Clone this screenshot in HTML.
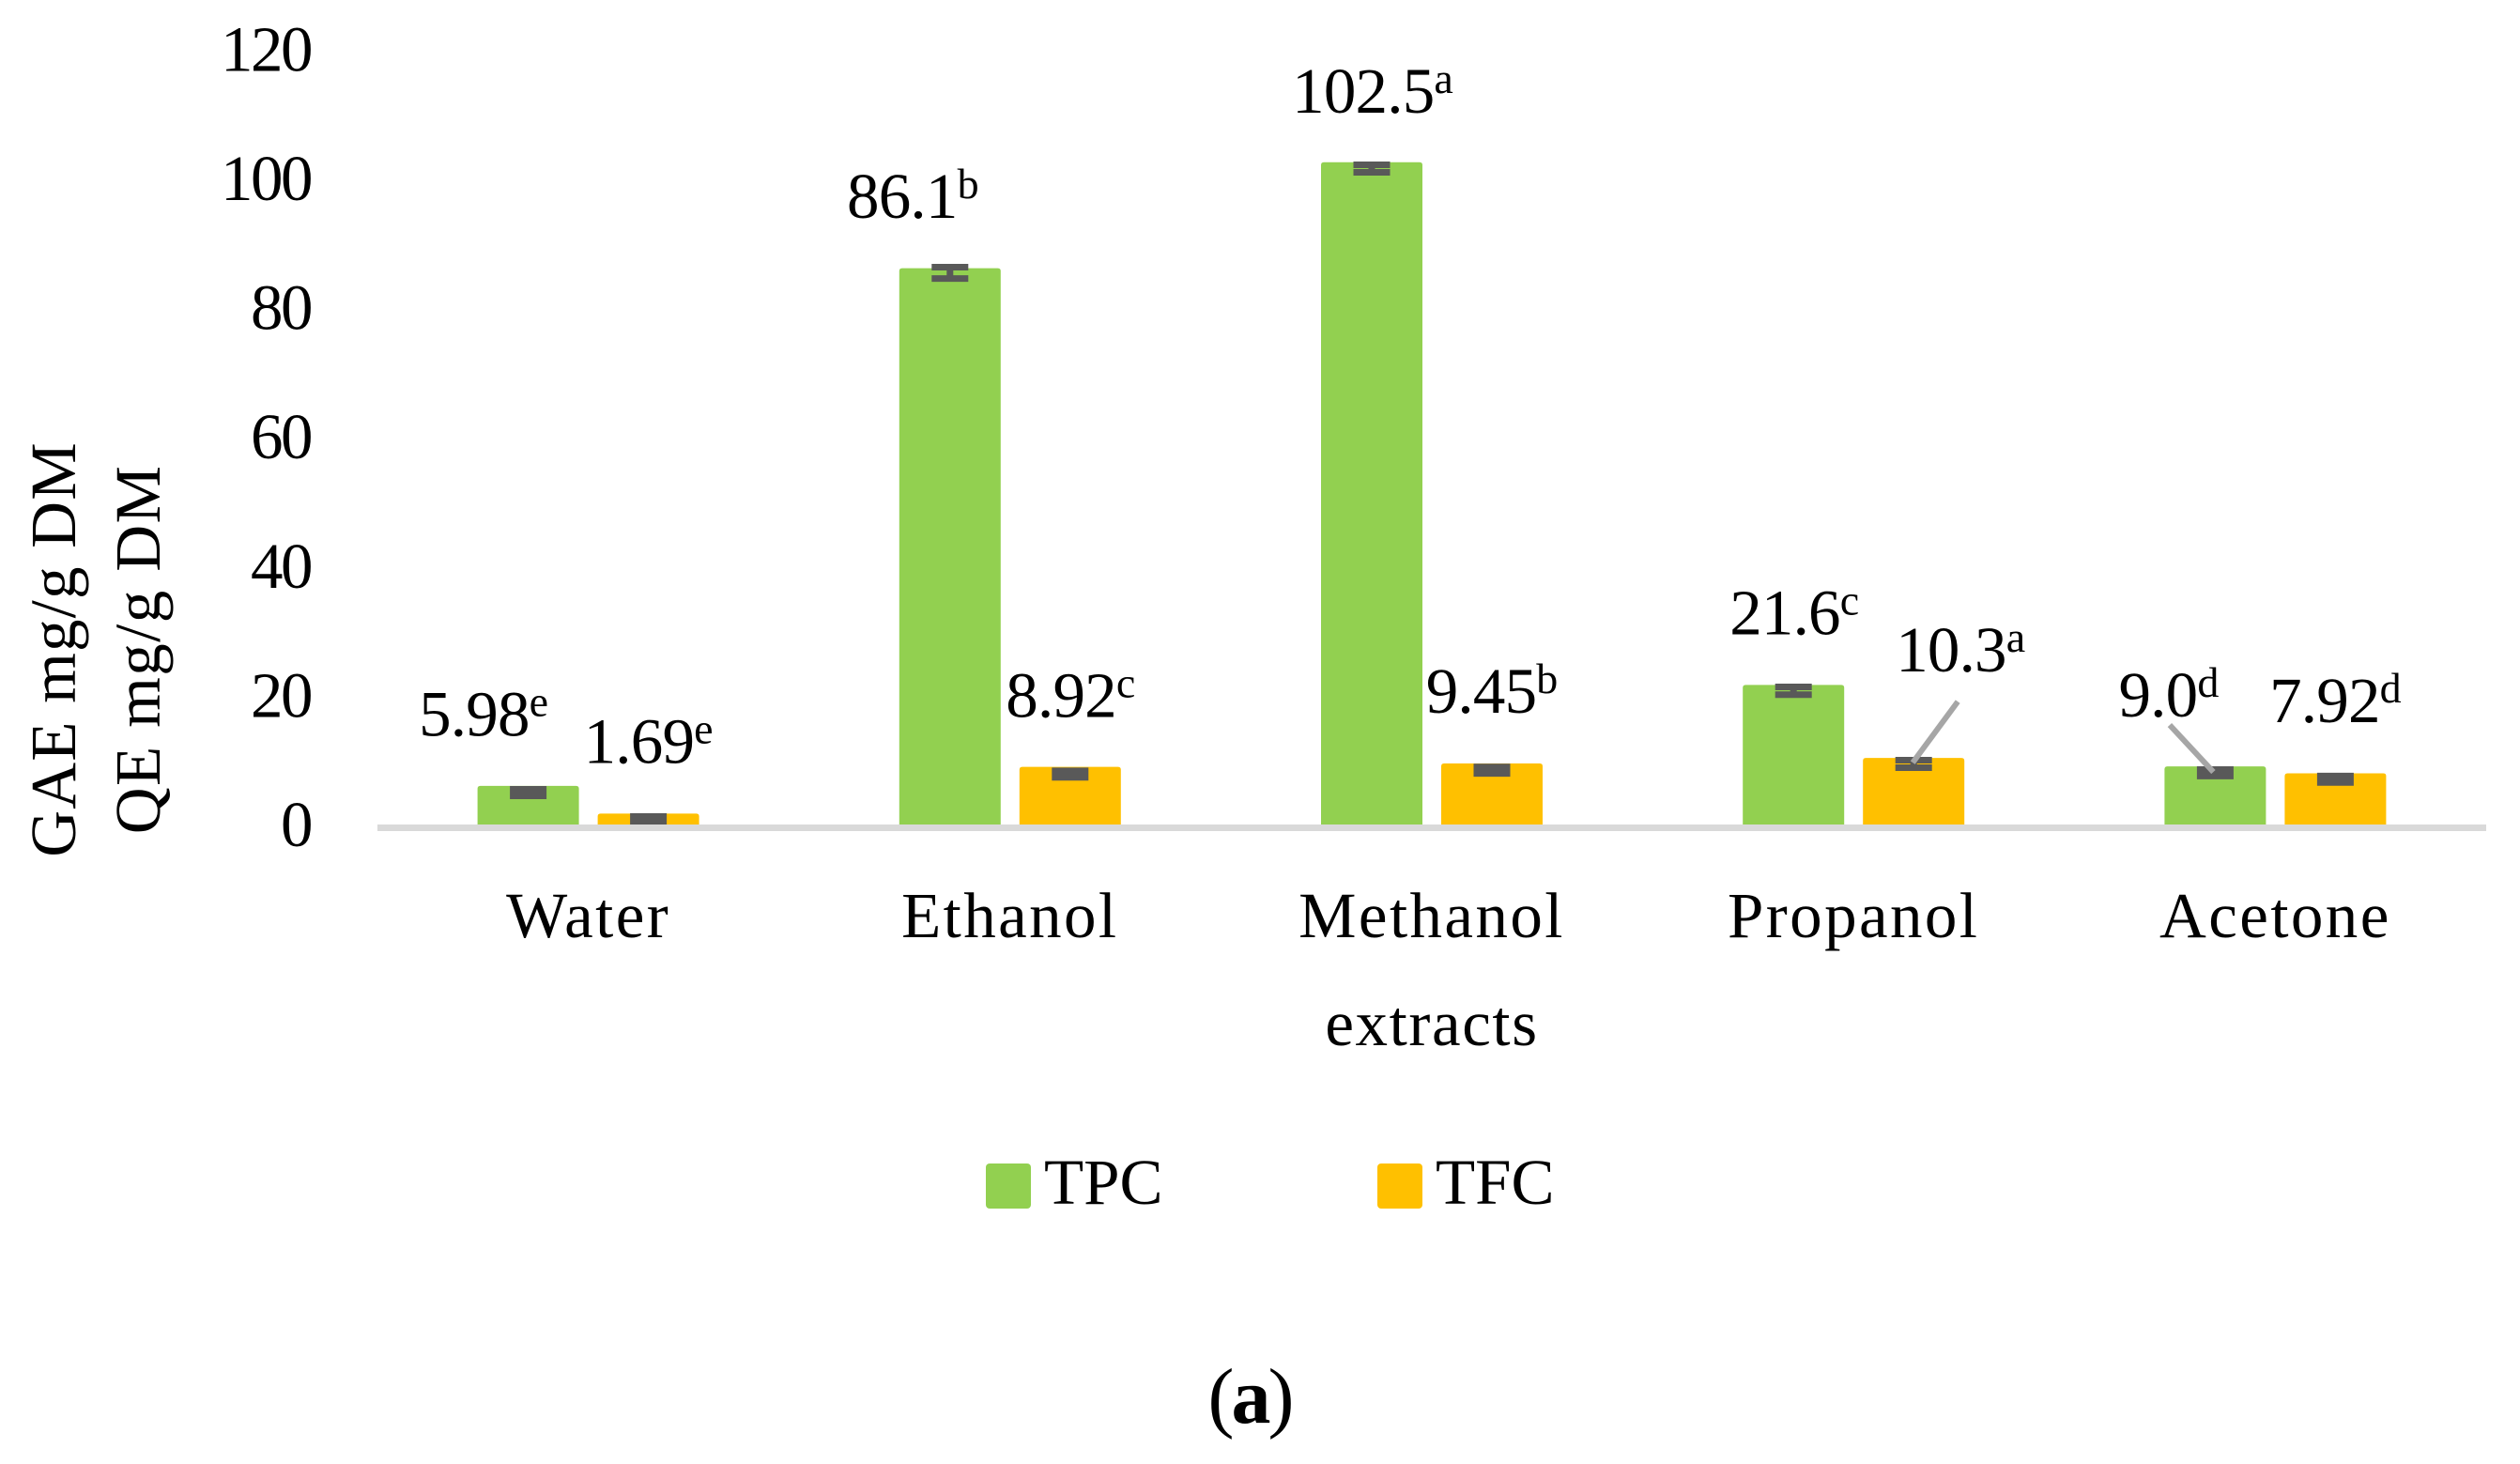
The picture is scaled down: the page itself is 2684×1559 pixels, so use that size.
<!DOCTYPE html>
<html lang="en">
<head>
<meta charset="utf-8">
<title>TPC and TFC by extract</title>
<style>
html,body{margin:0;padding:0;background:#fff;width:2684px;height:1559px;overflow:hidden}
svg{display:block}
text{font-family:"Liberation Serif",serif;fill:#000;font-size:69px}
</style>
</head>
<body>
<svg id="chart" xmlns="http://www.w3.org/2000/svg" width="2684" height="1559" viewBox="0 0 2684 1559">
  <rect width="2684" height="1559" fill="#fff"/>
  <g id="y-title">
    <text transform="translate(80,691.5) rotate(-90)" text-anchor="middle" letter-spacing="1.2">GAE mg/g DM</text>
    <text transform="translate(170,691.5) rotate(-90)" text-anchor="middle" letter-spacing="1.4">QE mg/g DM</text>
  </g>
  <g id="y-ticks"></g>
  <g id="bars"></g>
  <g id="errors"></g>
  <rect id="axis" x="402" y="878" width="2246" height="7" fill="#d9d9d9"/>
  <g id="leaders"></g>
  <g id="labels"></g>
  <g id="x-ticks"></g>
  <text x="1525" y="1113" text-anchor="middle" letter-spacing="1.6">extracts</text>
  <g>
    <rect x="1050" y="1239" width="48" height="48" rx="4" fill="#92d050"/>
    <text x="1112" y="1282">TPC</text>
    <rect x="1467" y="1239" width="48" height="48" rx="4" fill="#ffc000"/>
    <text x="1529" y="1282">TFC</text>
  </g>
  <text x="1331" y="1515" text-anchor="middle" letter-spacing="-3" style="font-size:84px">(<tspan font-weight="bold">a</tspan>)</text>
</svg>
<script>
const categories = ['Water', 'Ethanol', 'Methanol', 'Propanol', 'Acetone'];
const tpcValues = [5.98, 86.1, 102.5, 21.6, 9.0];
const tfcValues = [1.69, 8.92, 9.45, 10.3, 7.92];
const tpcErrHigh = [5.45, 86.26, 102.1, 21.3, 8.5];
const tpcErrLow = [4.43, 84.5, 100.95, 20.1, 7.5];
const tfcErrHigh = [1.24, 8.3, 8.9, 9.95, 7.5];
const tfcErrLow = [0.3, 7.3, 7.9, 8.8, 6.5];
const tpcLetters = ['e', 'b', 'a', 'c', 'd'];
const tfcLetters = ['e', 'c', 'b', 'a', 'd'];
const tpcLabels = ['5.98', '86.1', '102.5', '21.6', '9.0'];
const tfcLabels = ['1.69', '8.92', '9.45', '10.3', '7.92'];
const tickValues = [0, 20, 40, 60, 80, 100, 120];

const NS = 'http://www.w3.org/2000/svg';
const yScale = v => 878 - v * 6.88;
const bandX = i => 402 + 449.2 * i;
const barX = (i, s) => bandX(i) + 106.6 + s * 128;
const barW = 108;

function make(tag, parent) {
  const el = document.createElementNS(NS, tag);
  parent.appendChild(el);
  return el;
}

function roundedTop(x, top, w, bottom, r) {
  const rr = Math.min(r, Math.max(0, bottom - top));
  return `M${x} ${bottom}V${top + rr}Q${x} ${top} ${x + rr} ${top}H${x + w - rr}Q${x + w} ${top} ${x + w} ${top + rr}V${bottom}Z`;
}

const barsG = document.getElementById('bars');
const errG = document.getElementById('errors');
const labelsG = document.getElementById('labels');
const leadersG = document.getElementById('leaders');
const xTicksG = document.getElementById('x-ticks');
const yTicksG = document.getElementById('y-ticks');

tickValues.forEach(v => {
  const t = make('text', yTicksG);
  
  
  t.setAttribute('x', 331);
  t.setAttribute('y', yScale(v) + 23);
  t.setAttribute('text-anchor', 'end');
  t.setAttribute('letter-spacing', '-2.5');
  t.textContent = v;
});

categories.forEach((c, i) => {
  const t = make('text', xTicksG);
  
  
  t.setAttribute('x', bandX(i) + 224.6);
  t.setAttribute('y', 998);
  t.setAttribute('text-anchor', 'middle');
  t.setAttribute('letter-spacing', '2.4');
  t.textContent = c;
});

function drawSeries(values, errHigh, errLow, labels, letters, s, color, offsets) {
  values.forEach((v, i) => {
    const x = barX(i, s);
    const top = yScale(v);
    const bar = make('path', barsG);
    
    
    bar.setAttribute('d', roundedTop(x, top, barW, yScale(0), 3));
    bar.setAttribute('fill', color);

    const cx = x + barW / 2;
    const hi = yScale(errHigh[i]);
    const lo = Math.min(yScale(errLow[i]), yScale(0) - 3.5);
    const err = make('path', errG);
    
    
    err.setAttribute('d', `M${cx - 19.5} ${hi}H${cx + 19.5}M${cx - 19.5} ${lo}H${cx + 19.5}M${cx} ${hi}V${lo}`);
    err.setAttribute('stroke', '#595959');
    err.setAttribute('stroke-width', '7');
    err.setAttribute('fill', 'none');

    const off = offsets[i];
    const t = make('text', labelsG);
    
    
    t.setAttribute('x', cx + off[0]);
    t.setAttribute('y', top + off[1]);
    t.setAttribute('text-anchor', 'middle');
    const main = make('tspan', t);
    main.setAttribute('letter-spacing', '-0.8');
    main.textContent = labels[i];
    const sup = make('tspan', t);
    sup.setAttribute('font-size', '46');
    sup.setAttribute('dy', '-21');
    sup.textContent = letters[i];

    if (off[2]) {
      const l = make('line', leadersG);
      
      
      l.setAttribute('x1', cx + off[2]);
      l.setAttribute('y1', top + off[3]);
      l.setAttribute('x2', cx + off[4]);
      l.setAttribute('y2', top + off[5]);
      l.setAttribute('stroke', '#a6a6a6');
      l.setAttribute('stroke-width', '6');
    }
  });
}

drawSeries(tpcValues, tpcErrHigh, tpcErrLow, tpcLabels, tpcLetters, 0, '#92d050',
  [[-47.5, -53.5], [-39.5, -53.5], [1, -53], [1, -54], [-49.5, -53, -48.5, -44, -2, 6]]);
drawSeries(tfcValues, tfcErrHigh, tfcErrLow, tfcLabels, tfcLetters, 1, '#ffc000',
  [[0, -54], [0.5, -53], [0, -54], [50, -92, 47, -60, -1, 5], [0, -54.5]]);
</script>
</body>
</html>
